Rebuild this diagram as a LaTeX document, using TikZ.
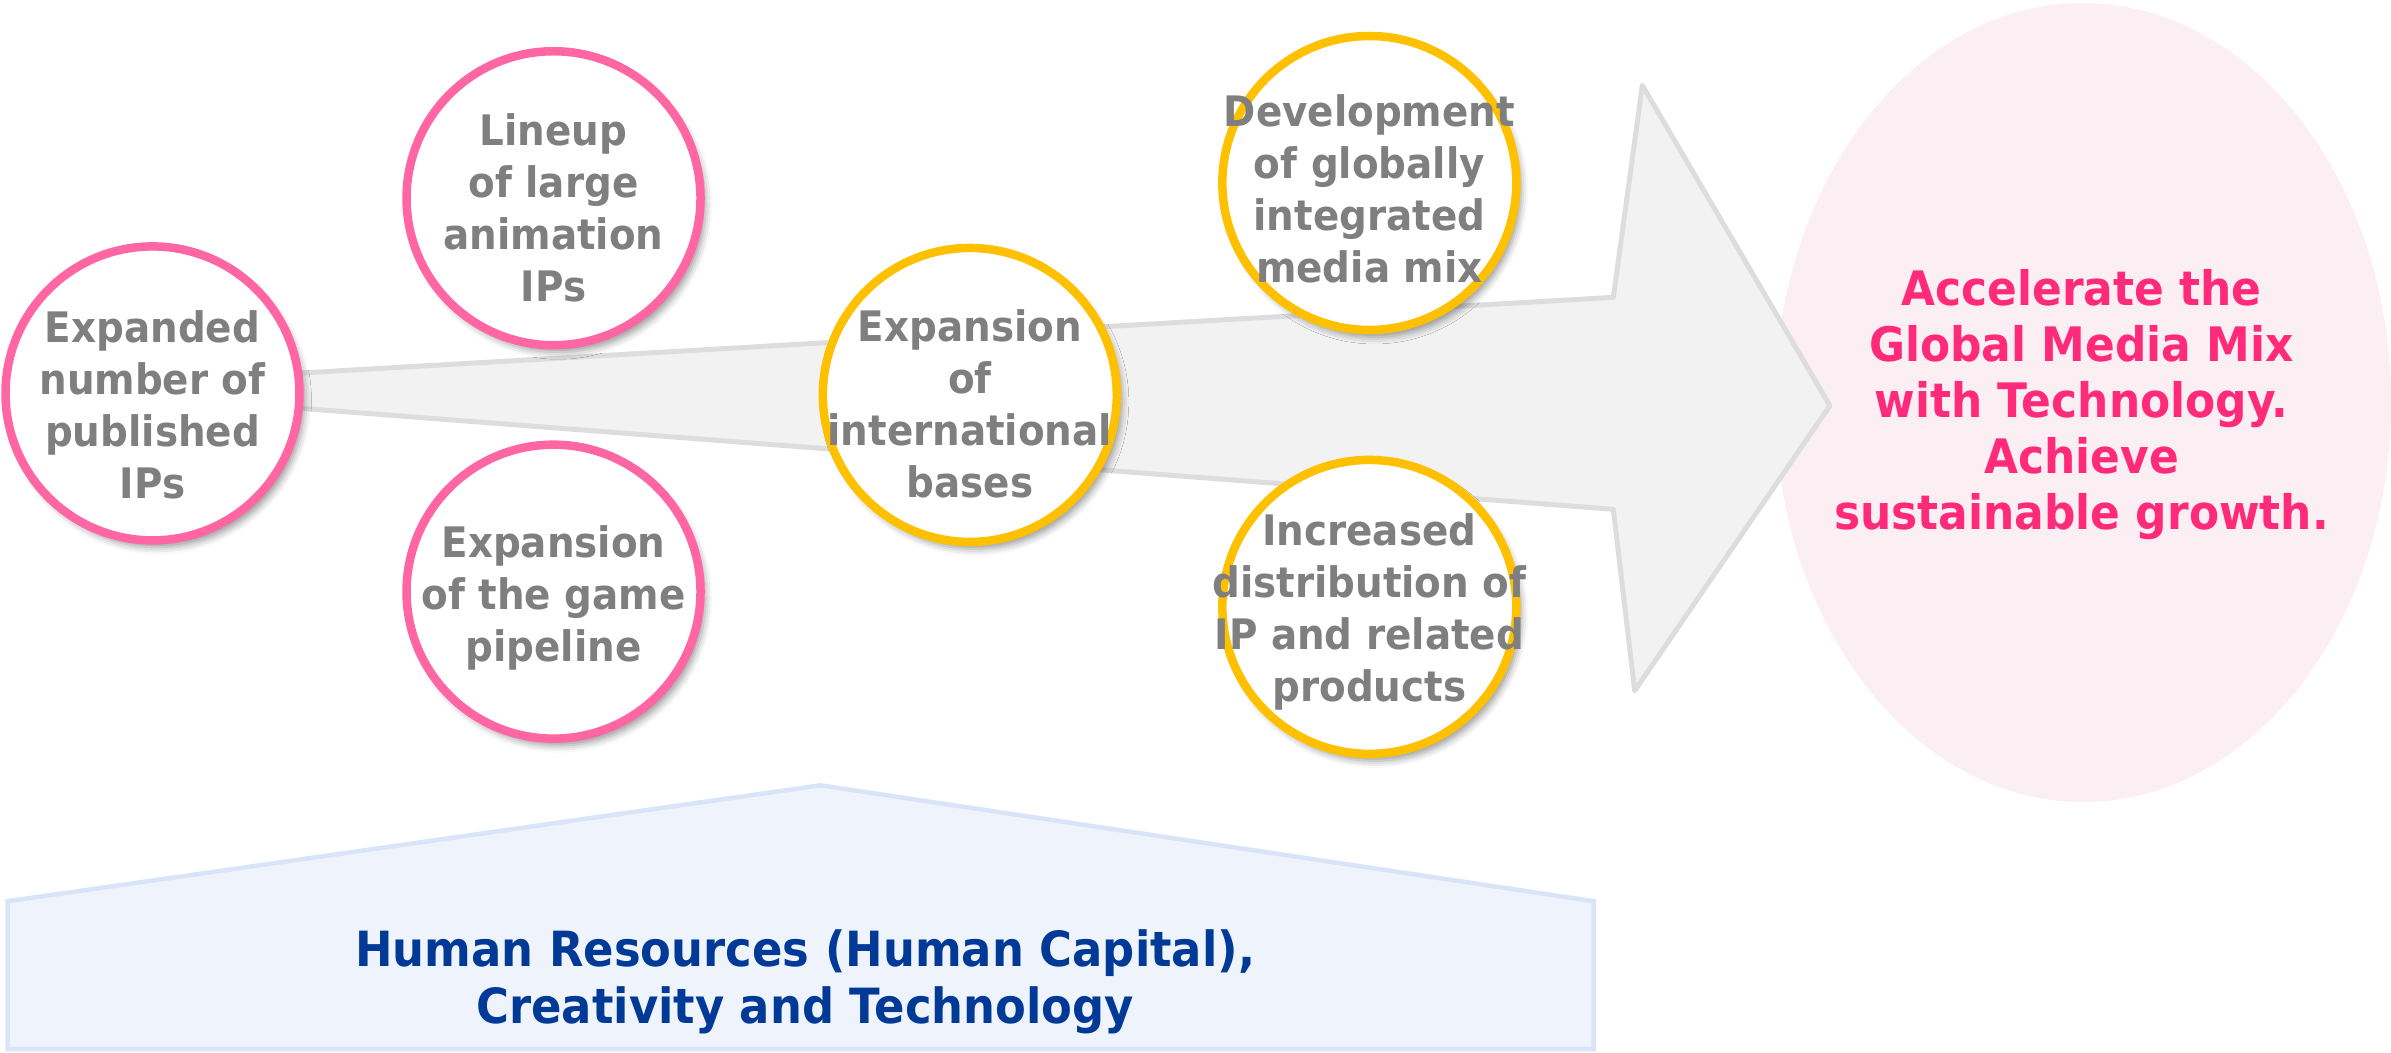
\documentclass[tikz,border=0pt]{standalone}
\usepackage{fontspec}
\setmainfont{DejaVu Sans}
\newfontfamily\narrowfont[FakeStretch=0.925]{DejaVu Sans}
\usetikzlibrary{shadows.blur}
\definecolor{txtgrey}{HTML}{7F7F7F}
\definecolor{pinkring}{HTML}{FF66A3}
\definecolor{goldring}{HTML}{FFC000}
\definecolor{arrowfill}{HTML}{F2F2F2}
\definecolor{arrowline}{HTML}{DDDDDD}
\definecolor{goalfill}{HTML}{FCEFF4}
\definecolor{goaltext}{HTML}{FF2A7A}
\definecolor{basefill}{HTML}{EFF4FC}
\definecolor{baseline}{HTML}{DAE4F8}
\definecolor{basetext}{HTML}{003A96}
\begin{document}
\begin{tikzpicture}[x=1.525pt,y=-1.525pt,
  ring/.style={circle, minimum size=294pt, inner sep=0pt, fill=white, line width=8.5pt,
    blur shadow={shadow xshift=5pt, shadow yshift=-7pt, shadow blur radius=7pt, shadow opacity=40}},
  pinkring/.style={ring, draw=pinkring},
  goldring/.style={ring, draw=goldring},
  ringtext/.style={align=center, inner sep=0pt, text=txtgrey,
    font=\narrowfont\fontsize{42}{52}\selectfont\bfseries},
  goaltext/.style={align=center, inner sep=0pt, text=goaltext,
    font=\narrowfont\fontsize{47.5}{56}\selectfont\bfseries},
  basetext/.style={align=center, inner sep=0pt, text=basetext,
    font=\narrowfont\fontsize{48.5}{57}\selectfont\bfseries}]
\useasboundingbox (0,0) rectangle (1568,690);
% goal ellipse
\fill[goalfill] (1366,264) ellipse [x radius=202, y radius=262];
% big arrow
\draw[fill=arrowfill, draw=arrowline, line width=5pt, line join=round]
  (130,248.5) -- (1058,195) -- (1077,56) -- (1200,266) -- (1072,453) -- (1058,334) -- (130,262.6) -- cycle;
% base pentagon
\draw[fill=basefill, draw=baseline, line width=4.5pt]
  (5,688) -- (5,591) -- (538,515) -- (1045,591) -- (1045,688) -- cycle;
\node[basetext] (base) at (528,644) {Human Resources (Human Capital),\\Creativity and Technology};
% circles
\node[pinkring] (c1) at (100,258) {};
\node[pinkring] (c2) at (363,130) {};
\node[pinkring] (c3) at (363,388) {};
\node[goldring] (c4) at (636,259) {};
\node[goldring] (c5) at (898,120) {};
\node[goldring] (c6) at (898,398) {};
\node[ringtext] (t1) at ([yshift=-11pt]c1) {Expanded\\number of\\published\\IPs};
\node[ringtext] (t2) at ([yshift=-10pt]c2) {Lineup\\of large\\animation\\IPs};
\node[ringtext] (t3) at ([yshift=-6pt]c3) {Expansion\\of the game\\pipeline};
\node[ringtext] (t4) at ([yshift=-9pt]c4) {Expansion\\of\\international\\bases};
\node[ringtext] (t5) at ([yshift=-6pt]c5) {Development\\of globally\\integrated\\media mix};
\node[ringtext] (t6) at ([yshift=-5pt]c6) {Increased\\distribution of\\IP and related\\products};
\node[goaltext] (goal) at (1365,265) {Accelerate the\\Global Media Mix\\with Technology.\\Achieve\\sustainable growth.};
\end{tikzpicture}
\end{document}
